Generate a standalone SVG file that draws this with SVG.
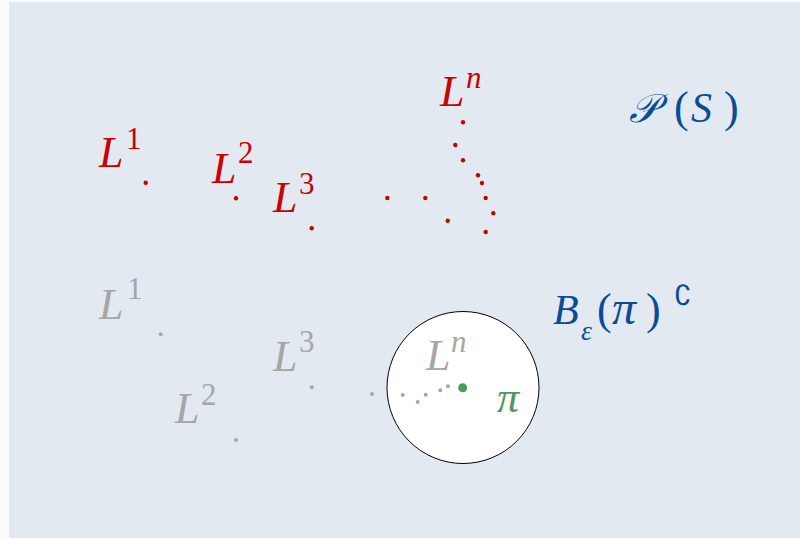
<svg xmlns="http://www.w3.org/2000/svg" width="800" height="538" viewBox="0 0 800 538">
<style>
.m{font-family:"Liberation Serif","DejaVu Serif",serif;font-style:italic;font-size:44px}
.s{font-family:"Liberation Serif","DejaVu Serif",serif;font-size:31px}
.si{font-family:"Liberation Serif","DejaVu Serif",serif;font-style:italic;font-size:31px}
.red{fill:#cc0000}
.gray{fill:#a6a6a6}
.blue{fill:#0b4c97}
.green{fill:#4a9a5e}
</style>
<rect x="0" y="0" width="800" height="538" fill="#fcfcfc"/>
<rect x="9" y="2" width="791" height="536" fill="#e2e9f1"/>
<g id="ball">
<circle cx="463" cy="387.5" r="76" fill="#ffffff" stroke="#000000" stroke-width="1"/>
</g>
<g id="red-sequence" class="red">
<text class="m" x="99" y="167">L</text><text class="s" x="126" y="149">1</text>
<circle cx="145.7" cy="182.7" r="2.2"/>
<text class="m" x="212" y="183">L</text><text class="s" x="238" y="163">2</text>
<circle cx="236" cy="198.3" r="2.2"/>
<text class="m" x="273" y="212">L</text><text class="s" x="299" y="194">3</text>
<circle cx="311.7" cy="228.3" r="2.2"/>
<circle cx="387.3" cy="198" r="2.2"/>
<circle cx="425.3" cy="198" r="2.2"/>
<circle cx="447.7" cy="220.7" r="2.2"/>
<circle cx="485.7" cy="232" r="2.2"/>
<circle cx="493.3" cy="213.3" r="2.2"/>
<circle cx="485.7" cy="198" r="2.2"/>
<circle cx="482" cy="183" r="2.2"/>
<circle cx="478" cy="175.3" r="2.2"/>
<circle cx="463" cy="160.3" r="2.2"/>
<circle cx="455.3" cy="145" r="2.2"/>
<circle cx="463" cy="122.3" r="2.2"/>
<text class="m" x="440" y="106">L</text><text class="si" x="466" y="88">n</text>
</g>
<g id="gray-sequence" class="gray">
<text class="m" x="99" y="319">L</text><text class="s" x="127" y="299">1</text>
<circle cx="160.7" cy="334.3" r="2"/>
<text class="m" x="175" y="423">L</text><text class="s" x="201" y="405">2</text>
<circle cx="236" cy="440" r="2"/>
<text class="m" x="273" y="371">L</text><text class="s" x="299" y="352">3</text>
<circle cx="311.7" cy="387.3" r="2"/>
<circle cx="372" cy="394" r="2"/>
<circle cx="402.7" cy="395" r="2"/>
<circle cx="417.7" cy="402" r="2"/>
<circle cx="425.7" cy="394.7" r="2"/>
<circle cx="440.3" cy="390.3" r="2"/>
<circle cx="448" cy="386.3" r="2"/>
<text class="m" x="426" y="370">L</text><text class="si" x="451" y="352">n</text>
</g>
<g id="limit" class="green">
<circle cx="462.7" cy="387.7" r="4.5"/>
<text class="m" x="497" y="412" font-size="46">π</text>
</g>
<g id="powerset-label" class="blue">
<text y="122" font-family="'DejaVu Serif','Liberation Serif',serif" font-size="40"><tspan x="629" font-style="italic">𝒫</tspan><tspan x="674" font-family="'Liberation Serif',serif" font-size="44">(</tspan><tspan x="691" font-family="'Liberation Serif',serif" font-size="42" font-style="italic">S</tspan><tspan x="724" font-family="'Liberation Serif',serif" font-size="44">)</tspan></text>
</g>
<g id="complement-label" class="blue">
<text y="323.5" font-family="'Liberation Serif','DejaVu Serif',serif" font-size="42"><tspan x="553" font-style="italic">B</tspan><tspan x="581" y="340" font-style="italic" font-size="28">ε</tspan><tspan x="597" y="323.5" font-size="44">(</tspan><tspan x="612" font-style="italic" font-size="48">π</tspan><tspan x="646" font-size="44">)</tspan></text>
<text x="674" y="305" font-family="'DejaVu Sans',sans-serif" font-size="28">∁</text>
</g>
</svg>
